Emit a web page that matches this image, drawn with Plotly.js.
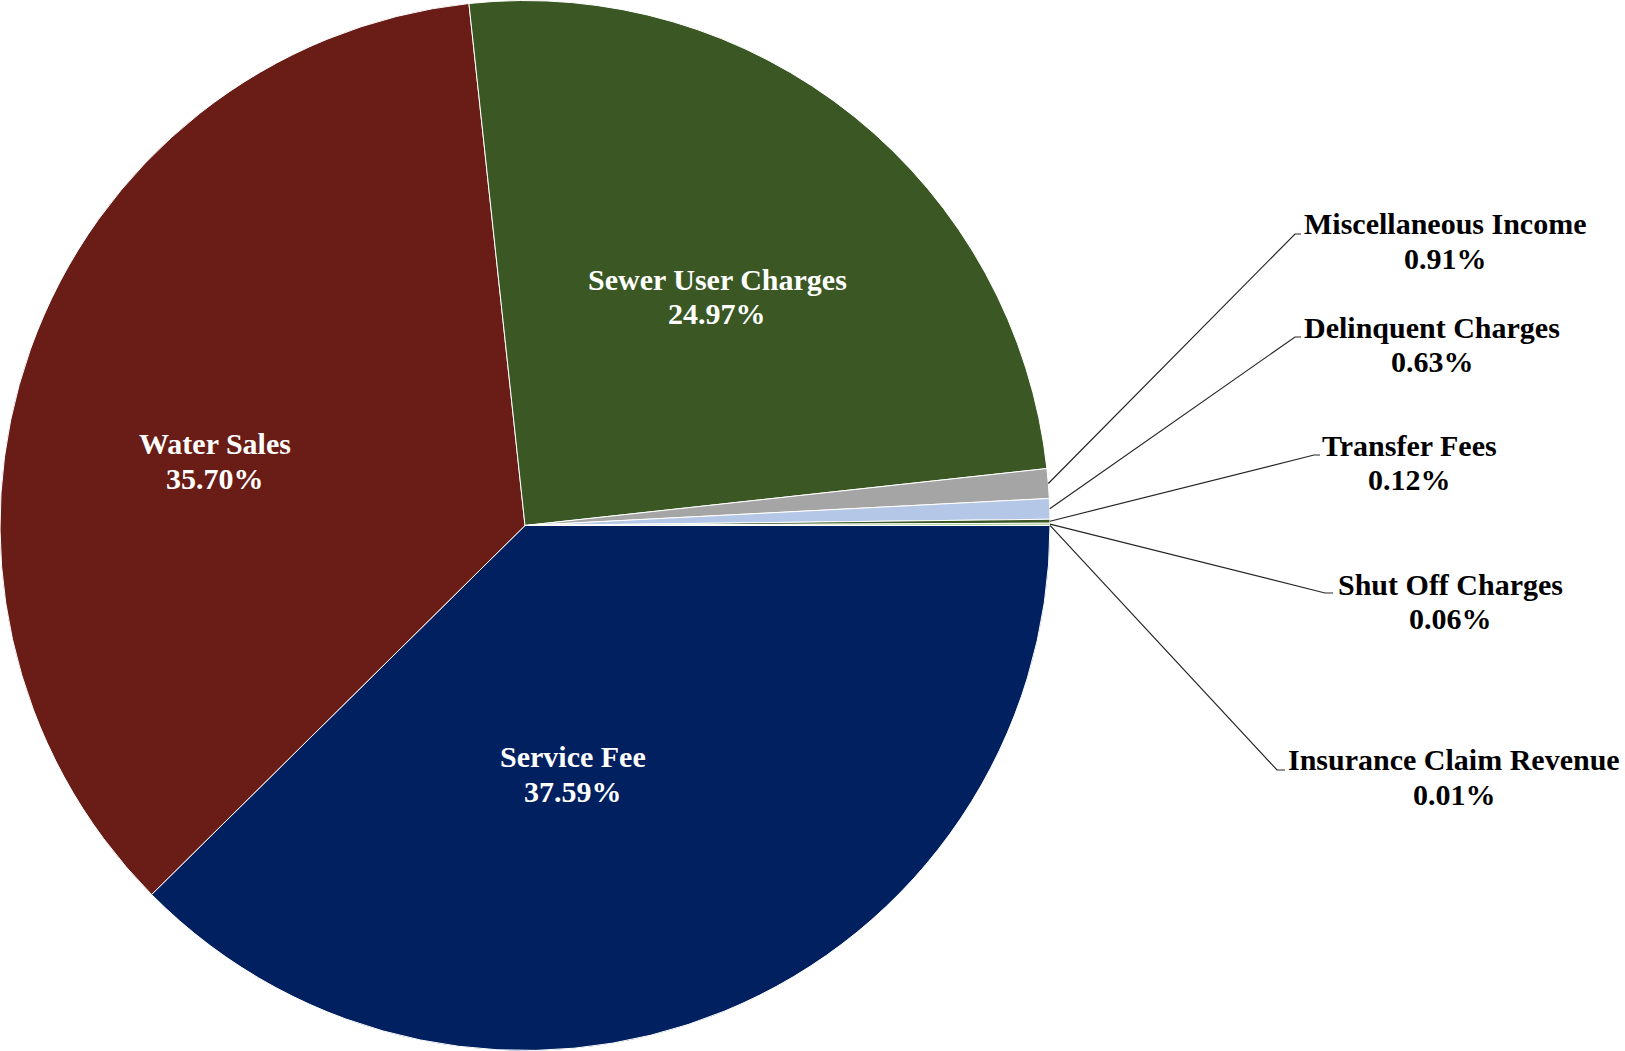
<!DOCTYPE html>
<html>
<head>
<meta charset="utf-8">
<script src="https://cdn.plot.ly/plotly-3.0.1.min.js"></script>
<style>html,body{margin:0;padding:0;background:#fff;}#chart{width:1625px;height:1051px;}</style>
</head>
<body>
<div id="chart"></div>
<script>
// ---- data ----
const categories = ["Service Fee", "Water Sales", "Sewer User Charges", "Miscellaneous Income",
                    "Delinquent Charges", "Transfer Fees", "Shut Off Charges", "Insurance Claim Revenue"];
const values = [37.59, 35.70, 24.97, 0.91, 0.63, 0.12, 0.06, 0.01];

// ---- styles ----
const colors = ["#002060", "#6A1C16", "#3A5724", "#A5A5A5", "#B4C7E7", "#3A5724", "#70AD47", "#264478"];
const W = 1625, H = 1051;
const pieDiam = 1050;
const fontSize = 30;
// label placement (pixels): [centerX, line1Y, line2Y]
const insidePos = [[573, 756, 791], [215, 444, 478], [717, 279, 313]];
const outsidePos = {
  3: {text: [1445, 224, 258], elbow: [1295, 234], end: [1301, 234]},
  4: {text: [1432, 327, 361], elbow: [1295, 337], end: [1301, 337]},
  5: {text: [1409, 445, 479], elbow: [1314, 455], end: [1320, 455]},
  6: {text: [1450, 584, 618], elbow: [1325, 593], end: [1333, 593]},
  7: {text: [1454, 759, 794], elbow: [1277, 770], end: [1285, 770]}
};
const fontFamily = '"Liberation Serif", "Times New Roman", serif';

const px = x => x / W;
const py = y => 1 - y / H;

const pctText = values.map(v => v.toFixed(2) + '%');

const annotations = [];
const shapes = [];
function addLabel(i, pos, color) {
  annotations.push({x: px(pos[0]), y: py(pos[1]), xref: 'paper', yref: 'paper', text: categories[i],
    showarrow: false, xanchor: 'center', yanchor: 'middle',
    font: {family: fontFamily, size: fontSize, color: color, weight: 'bold'}});
  annotations.push({x: px(pos[0]), y: py(pos[2]), xref: 'paper', yref: 'paper', text: pctText[i],
    showarrow: false, xanchor: 'center', yanchor: 'middle',
    font: {family: fontFamily, size: fontSize, color: color, weight: 'bold'}});
}
for (let i = 0; i < 3; i++) addLabel(i, insidePos[i], '#ffffff');

// leader lines start at the slice mid-angle on the pie edge
const total = values.reduce((a, b) => a + b, 0);
const R = pieDiam / 2, cx = pieDiam / 2, cy = H / 2;
let cum = 0;
values.forEach((v, i) => {
  const mid = (cum + v / 2) / total;
  cum += v;
  if (outsidePos[i]) {
    const th = mid * 2 * Math.PI; // clockwise from 3 o'clock
    const sx = cx + R * Math.cos(th), sy = cy + R * Math.sin(th);
    const o = outsidePos[i];
    shapes.push({type: 'path', xref: 'paper', yref: 'paper',
      path: `M ${px(sx)} ${py(sy)} L ${px(o.elbow[0])} ${py(o.elbow[1])} L ${px(o.end[0])} ${py(o.end[1])}`,
      line: {color: '#262626', width: 1.2}});
    addLabel(i, o.text, '#000000');
  }
});

const trace = {
  type: 'pie',
  labels: categories,
  values: values,
  sort: false,
  direction: 'clockwise',
  rotation: 90,
  textinfo: 'none',
  hoverinfo: 'skip',
  marker: {colors: colors, line: {color: '#ffffff', width: 1}},
  domain: {x: [0, pieDiam / W], y: [0, 1]}
};

const layout = {
  width: W, height: H,
  margin: {l: 0, r: 0, t: 0, b: 0},
  showlegend: false,
  paper_bgcolor: '#ffffff',
  annotations: annotations,
  shapes: shapes
};

Plotly.newPlot('chart', [trace], layout, {displayModeBar: false, staticPlot: true});
</script>
</body>
</html>
